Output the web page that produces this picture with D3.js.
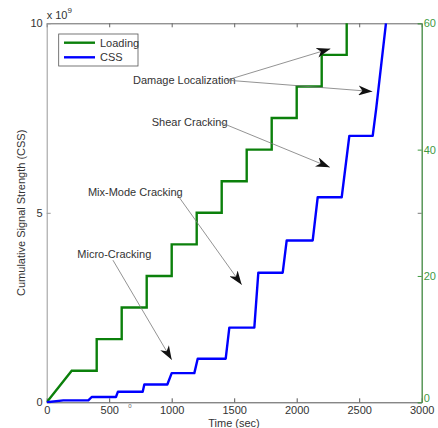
<!DOCTYPE html>
<html>
<head>
<meta charset="utf-8">
<script src="https://cdn.jsdelivr.net/npm/d3@7"></script>
<style>
  body { margin: 0; background: #fff; }
  text { font-family: "Liberation Sans", Arial, sans-serif; }
</style>
</head>
<body>
<svg id="chart" width="438" height="428"></svg>
<script>
// loading curve (right axis, 0-60)
const loadTime = [0, 200, 400, 400, 600, 600, 800, 800, 1000, 1000, 1200, 1200, 1400, 1400, 1600, 1600, 1800, 1800, 2000, 2000, 2200, 2200, 2400, 2400];
const loadValue = [0, 5, 5, 10, 10, 15, 15, 20, 20, 25, 25, 30, 30, 35, 35, 40, 40, 45, 45, 50, 50, 55, 55, 60];

// cumulative signal strength (left axis, x 10^9)
const cssTime = [0, 133, 333, 360, 554, 570, 768, 781, 965, 1000, 1181, 1208, 1432, 1461, 1661, 1693, 1888, 1920, 2128, 2168, 2360, 2421, 2608, 2636, 2714];
const cssValue = [0, 0.05, 0.05, 0.14, 0.14, 0.28, 0.28, 0.47, 0.47, 0.77, 0.77, 1.15, 1.15, 1.97, 1.97, 3.42, 3.42, 4.27, 4.27, 5.41, 5.41, 7.03, 7.03, 7.75, 10];

const xTicks = [0, 500, 1000, 1500, 2000, 2500, 3000];
const yTicks = [0, 5, 10];
const y2Ticks = [0, 20, 40, 60];

const seriesNames = ["Loading", "CSS"];
const seriesColors = ["#0b800b", "#0000ff"];

// annotations: label, text anchor (time, css), arrow targets (time, css)
const notes = [
  {label: "Damage Localization", t: 690, v: 8.5, from: [1440, 8.5], to: [[2270, 9.33], [2605, 8.2]]},
  {label: "Shear Cracking", t: 840, v: 7.4, from: [1380, 7.4], to: [[2265, 6.2]]},
  {label: "Mix-Mode Cracking", t: 330, v: 5.55, from: [1040, 5.5], to: [[1560, 3.1]]},
  {label: "Micro-Cracking", t: 245, v: 3.9, from: [530, 3.75], to: [[1000, 1.12]]}
];

const svg = d3.select("#chart");
const x = d3.scaleLinear().domain([0, 3000]).range([46.7, 421.7]);
const y = d3.scaleLinear().domain([0, 10]).range([402.3, 23.3]);
const y2 = d3.scaleLinear().domain([0, 60]).range([402.3, 23.3]);

svg.append("defs").append("clipPath").attr("id", "clip")
  .append("rect").attr("x", x(0)).attr("y", y(10) - 1)
  .attr("width", x(3000) - x(0)).attr("height", y(0) - y(10) + 2);

svg.append("defs").append("marker")
  .attr("id", "head").attr("viewBox", "0 0 14 10")
  .attr("refX", 14).attr("refY", 5)
  .attr("markerWidth", 14).attr("markerHeight", 10)
  .attr("markerUnits", "userSpaceOnUse")
  .attr("orient", "auto")
  .append("path").attr("d", "M0,0 L14,5 L0,10 L4,5 Z").attr("fill", "#111");

// axes
const gray = "#7a7a7a", txt = "#333", green = "#3f9a3f";

function style(g, col, tcol) {
  g.select(".domain").attr("stroke", col);
  g.selectAll(".tick line").attr("stroke", col);
  g.selectAll(".tick text").attr("fill", tcol).attr("font-size", 11);
}

svg.append("g").attr("transform", `translate(0,${y(0)})`)
  .call(d3.axisBottom(x).tickValues(xTicks).tickSize(-4).tickSizeOuter(0).tickPadding(4).tickFormat(d3.format("d")))
  .call(g => style(g, "#555", txt));
svg.append("g").attr("transform", `translate(0,${y(10)})`)
  .call(d3.axisTop(x).tickValues(xTicks).tickSize(-4).tickSizeOuter(0).tickFormat(""))
  .call(g => style(g, "#666", txt));
svg.append("g").attr("transform", `translate(${x(0)},0)`)
  .call(d3.axisLeft(y).tickValues(yTicks).tickSize(-4).tickSizeOuter(0).tickPadding(4).tickFormat(d3.format("d")))
  .call(g => style(g, "#999", txt));
svg.append("g").attr("transform", `translate(${x(3000)},0)`)
  .call(d3.axisRight(y).tickValues(yTicks).tickSize(-4).tickSizeOuter(0).tickFormat(""))
  .call(g => style(g, gray, txt));
svg.append("g").attr("transform", `translate(${x(3000)},0)`)
  .call(d3.axisRight(y2).tickValues(y2Ticks).tickSize(-4).tickSizeOuter(0).tickPadding(2).tickFormat(d3.format("d")))
  .call(g => style(g, green, green))
  .call(g => g.selectAll(".tick text").filter(d => d === 0).attr("y", -4));

// multiplier
const mult = svg.append("text").attr("x", x(0)).attr("y", 19).attr("font-size", 11).attr("fill", txt);
mult.append("tspan").text("x 10");
mult.append("tspan").attr("dy", -6).attr("font-size", 8).text("9");

// axis labels
svg.append("text").attr("x", 234).attr("y", 427).attr("text-anchor", "middle")
  .attr("font-size", 11).attr("fill", txt).text("Time (sec)");
svg.append("text").attr("transform", `translate(25,${y(5)}) rotate(-90)`)
  .attr("text-anchor", "middle").attr("font-size", 11).attr("fill", txt)
  .text("Cumulative Signal Strength (CSS)");
svg.append("text").attr("x", 130).attr("y", 408).attr("text-anchor", "middle")
  .attr("font-size", 6).attr("fill", "#666").text("0");

// series
const plot = svg.append("g").attr("clip-path", "url(#clip)");
plot.append("path")
  .datum(loadTime.map((t, i) => [t, loadValue[i]]))
  .attr("fill", "none").attr("stroke", seriesColors[0]).attr("stroke-width", 2.4)
  .attr("d", d3.line().x(d => x(d[0])).y(d => y2(d[1])));
plot.append("path")
  .datum(cssTime.map((t, i) => [t, cssValue[i]]))
  .attr("fill", "none").attr("stroke", seriesColors[1]).attr("stroke-width", 2.4)
  .attr("stroke-linejoin", "round")
  .attr("d", d3.line().x(d => x(d[0])).y(d => y(d[1])));

// annotations
notes.forEach(n => {
  svg.append("text").attr("x", x(n.t)).attr("y", y(n.v) + 4)
    .attr("font-size", 11).attr("fill", txt).text(n.label);
  n.to.forEach(p => {
    svg.append("line")
      .attr("x1", x(n.from[0])).attr("y1", y(n.from[1]))
      .attr("x2", x(p[0])).attr("y2", y(p[1]))
      .attr("stroke", "#777").attr("stroke-width", 0.8)
      .attr("marker-end", "url(#head)");
  });
});

// legend
const leg = svg.append("g");
leg.append("rect").attr("x", 58.7).attr("y", 34).attr("width", 79.3).attr("height", 32)
  .attr("fill", "#fff").attr("stroke", "#555").attr("stroke-width", 0.8);
seriesNames.forEach((s, i) => {
  const yy = 42.7 + i * 14.6;
  leg.append("line").attr("x1", 64).attr("x2", 95).attr("y1", yy).attr("y2", yy)
    .attr("stroke", seriesColors[i]).attr("stroke-width", 2.4);
  leg.append("text").attr("x", 100).attr("y", yy + 4).attr("font-size", 11)
    .attr("fill", txt).text(s);
});
</script>
</body>
</html>
